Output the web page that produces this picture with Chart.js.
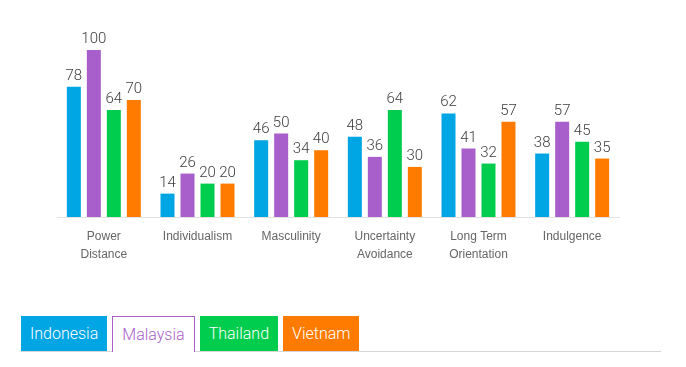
<!DOCTYPE html>
<html lang="en">
<head>
    <meta charset="UTF-8">
    <title>Hofstede dimensions - Southeast Asia</title>
    <script src="https://cdn.jsdelivr.net/npm/chart.js@4/dist/chart.umd.min.js"></script>
    <style>
        body { margin: 0; background: #fff; width: 686px; height: 367px; overflow: hidden; position: relative; }
        #wrap { position: absolute; left: 0; top: 0; width: 686px; height: 290px; }
        #legend { position: absolute; left: 21px; top: 316px; width: 640px; height: 35px; border-bottom: 1px solid #d6d6d6; }
        #legend span {
            float: left; height: 35px; line-height: 35px; margin-right: 5px; padding: 0 9px;
            font-family: Roboto, sans-serif; font-weight: 300; font-size: 16px; color: #fff; box-sizing: border-box;
        }
    </style>
</head>
<body>
    <div id="wrap"><canvas id="chart"></canvas></div>
    <div id="legend"></div>

    <script>
        const categories = [['Power', 'Distance'], 'Individualism', 'Masculinity', ['Uncertainty', 'Avoidance'], ['Long Term', 'Orientation'], 'Indulgence'];
        const countries = ['Indonesia', 'Malaysia', 'Thailand', 'Vietnam'];
        const indonesia = [78, 14, 46, 48, 62, 38];
        const malaysia = [100, 26, 50, 36, 41, 57];
        const thailand = [64, 20, 34, 64, 32, 45];
        const vietnam = [70, 20, 40, 30, 57, 35];
        const colors = ['#00a5e3', '#a95fcb', '#00cc4d', '#ff7b00'];
        const series = [indonesia, malaysia, thailand, vietnam];

        // numbers above each bar
        const valueLabels = {
            id: 'valueLabels',
            afterDatasetsDraw(chart) {
                const ctx = chart.ctx;
                ctx.save();
                ctx.font = '300 15px Roboto, sans-serif';
                ctx.fillStyle = '#3d3d3d';
                ctx.textAlign = 'center';
                ctx.textBaseline = 'alphabetic';
                chart.data.datasets.forEach((ds, i) => {
                    chart.getDatasetMeta(i).data.forEach((bar, j) => {
                        ctx.fillText(ds.data[j], bar.x, bar.y - 7);
                    });
                });
                ctx.restore();
            }
        };

        const ctx = document.getElementById('chart').getContext('2d');
        new Chart(ctx, {
            type: 'bar',
            data: {
                labels: categories,
                datasets: countries.map((name, i) => ({
                    label: name,
                    data: series[i],
                    backgroundColor: colors[i],
                    categoryPercentage: 0.854,
                    barPercentage: 0.7
                }))
            },
            options: {
                responsive: true,
                maintainAspectRatio: false,
                animation: false,
                layout: { padding: { left: 57, right: 67, top: 50, bottom: 13 } },
                plugins: { legend: { display: false }, tooltip: { enabled: false } },
                scales: {
                    x: {
                        grid: { display: false, drawTicks: false },
                        border: { color: '#e2e2e2', width: 1 },
                        ticks: {
                            color: '#666',
                            padding: 11,
                            maxRotation: 0,
                            autoSkip: false,
                            font: { family: '"Liberation Sans", Arial, sans-serif', size: 12, lineHeight: 1.5 }
                        },
                        afterFit(scale) { scale.height = 60; }
                    },
                    y: { display: false, min: 0, max: 100 }
                }
            },
            plugins: [valueLabels]
        });

        const legend = document.getElementById('legend');
        countries.forEach((name, i) => {
            const s = document.createElement('span');
            s.textContent = name;
            if (name === 'Malaysia') {
                s.style.background = '#fff';
                s.style.color = colors[i];
                s.style.border = '1px solid ' + colors[i];
                s.style.borderBottom = 'none';
                s.style.height = '36px';
            } else {
                s.style.background = colors[i];
            }
            legend.appendChild(s);
        });
    </script>
</body>
</html>
